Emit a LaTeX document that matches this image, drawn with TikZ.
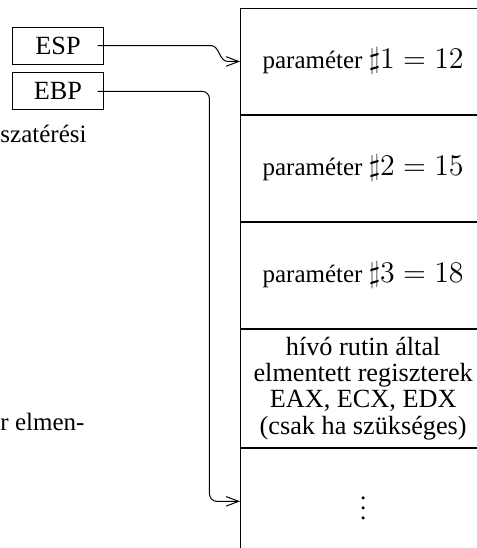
\documentclass[tikz,border=0pt]{standalone}
\usepackage{fontspec}
\setmainfont{Liberation Serif}
\usetikzlibrary{positioning,arrows.meta}

\begin{document}
\begin{tikzpicture}[
    cella/.style={draw,minimum width=3.45cm,minimum height=1.49cm,inner sep=0pt,align=center,font=\fontsize{10}{10.2}\selectfont},
    reg/.style={draw,minimum width=1.27cm,minimum height=0.52cm,inner sep=0pt,font=\fontsize{10.5}{12}\selectfont},
    nyil/.style={-{Straight Barb[length=5pt,width=3.8pt]}}]
    \useasboundingbox (0,0) rectangle (6.695,-7.707);

    %verem
    \node[cella,anchor=north west] (p1) at (3.376,-0.1125) {paraméter {\large$\sharp1=12$}};
    \node[cella,below=0pt of p1] (p2) {paraméter {\large$\sharp2=15$}};
    \node[cella,below=0pt of p2] (p3) {paraméter {\large$\sharp3=18$}};
    \node[cella,below=0pt of p3,minimum height=1.66cm,font=\fontsize{10.5}{10.5}\selectfont] (mentett) {hívó rutin által\\elmentett regiszterek\\EAX, ECX, EDX\\(csak ha szükséges)};
    \node[cella,below=0pt of mentett] (pont) {$\vdots$};

    %regiszterek
    \node[reg] (esp) at (0.816,-0.64) {ESP};
    \node[reg,below=0.11cm of esp] (ebp) {EBP};

    %szoveg
    \node[anchor=base west,inner sep=0pt] (sz1) at (0,-2.011) {szatérési};
    \node[anchor=base west,inner sep=0pt] (sz2) at (0,-6.06) {r elmen-};

    %nyilak
    \coordinate (espki) at ([xshift=-0.085cm]esp.east);
    \coordinate (ebpki) at ([xshift=-0.085cm]ebp.east);
    \draw[nyil] (espki)--++(1.59,0) to[out=0,in=180] ([xshift=-0.17cm]p1.west)--(p1.west);
    \draw[nyil,rounded corners=3pt] (ebpki) -| ([xshift=-0.43cm]pont.west)--(pont.west);

\end{tikzpicture}
\end{document}
